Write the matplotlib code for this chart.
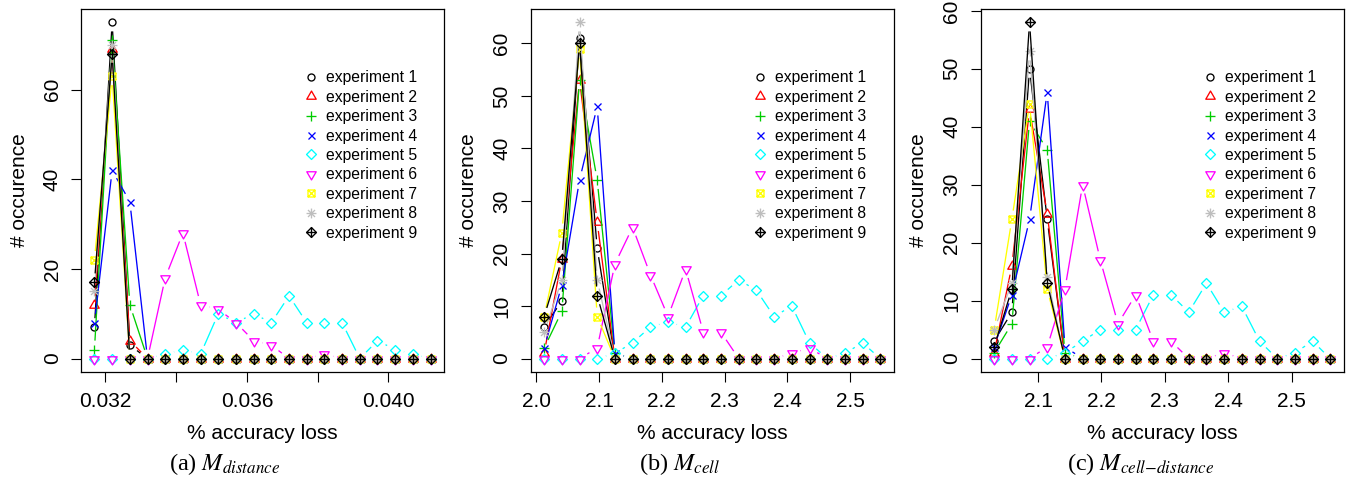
import numpy as np
import matplotlib
matplotlib.use('Agg')
import matplotlib.pyplot as plt
from matplotlib.path import Path
from matplotlib.lines import Line2D
from matplotlib.collections import LineCollection

plt.rcParams['font.family'] = ['Liberation Sans', 'DejaVu Sans']
plt.rcParams['mathtext.fontset'] = 'stix'

# ---------------- data ----------------
exp_labels = ['experiment 1', 'experiment 2', 'experiment 3', 'experiment 4', 'experiment 5',
              'experiment 6', 'experiment 7', 'experiment 8', 'experiment 9']
exp_colors = ['#000000', '#FF0000', '#00CD00', '#0000FF', '#00FFFF',
              '#FF00FF', '#FFFF00', '#BEBEBE', '#000000']

# (a) M_distance
x_distance = [0.03169, 0.03219, 0.03269, 0.03319, 0.03369, 0.03419, 0.03469, 0.03519, 0.03569, 0.03619,
              0.03669, 0.03719, 0.03769, 0.03819, 0.03869, 0.03919, 0.03969, 0.04019, 0.04069, 0.04119]
distance_counts = [
    [7, 75, 3, 0, 0, 0, 0, 0, 0, 0, 0, 0, 0, 0, 0, 0, 0, 0, 0, 0],
    [12, 69, 4, 0, 0, 0, 0, 0, 0, 0, 0, 0, 0, 0, 0, 0, 0, 0, 0, 0],
    [2, 71, 12, 0, 0, 0, 0, 0, 0, 0, 0, 0, 0, 0, 0, 0, 0, 0, 0, 0],
    [8, 42, 35, 0, 0, 0, 0, 0, 0, 0, 0, 0, 0, 0, 0, 0, 0, 0, 0, 0],
    [0, 0, 0, 0, 1, 2, 1, 10, 8, 10, 8, 14, 8, 8, 8, 0, 4, 2, 1, 0],
    [0, 0, 0, 0, 18, 28, 12, 11, 8, 4, 3, 0, 0, 1, 0, 0, 0, 0, 0, 0],
    [22, 63, 0, 0, 0, 0, 0, 0, 0, 0, 0, 0, 0, 0, 0, 0, 0, 0, 0, 0],
    [15, 70, 0, 0, 0, 0, 0, 0, 0, 0, 0, 0, 0, 0, 0, 0, 0, 0, 0, 0],
    [17, 68, 0, 0, 0, 0, 0, 0, 0, 0, 0, 0, 0, 0, 0, 0, 0, 0, 0, 0],
]
distance_xticks = [0.032, 0.034, 0.036, 0.038, 0.040]
distance_xticklabels = ['0.032', '', '0.036', '', '0.040']
distance_yticks = [0, 20, 40, 60]

# (b) M_cell
x_cell = [2.0127, 2.0409, 2.0691, 2.0972, 2.1254, 2.1536, 2.1818, 2.2100, 2.2381, 2.2663,
          2.2945, 2.3227, 2.3509, 2.3790, 2.4072, 2.4354, 2.4636, 2.4918, 2.5199, 2.5481]
cell_counts = [
    [6, 11, 61, 21, 0, 0, 0, 0, 0, 0, 0, 0, 0, 0, 0, 0, 0, 0, 0, 0],
    [1, 19, 53, 26, 0, 0, 0, 0, 0, 0, 0, 0, 0, 0, 0, 0, 0, 0, 0, 0],
    [2, 9, 53, 34, 1, 0, 0, 0, 0, 0, 0, 0, 0, 0, 0, 0, 0, 0, 0, 0],
    [2, 14, 34, 48, 1, 0, 0, 0, 0, 0, 0, 0, 0, 0, 0, 0, 0, 0, 0, 0],
    [0, 0, 0, 0, 1, 3, 6, 7, 6, 12, 12, 15, 13, 8, 10, 3, 0, 1, 3, 0],
    [0, 0, 0, 2, 18, 25, 16, 8, 17, 5, 5, 0, 0, 0, 1, 2, 0, 0, 0, 0],
    [8, 24, 59, 8, 0, 0, 0, 0, 0, 0, 0, 0, 0, 0, 0, 0, 0, 0, 0, 0],
    [5, 15, 64, 15, 0, 0, 0, 0, 0, 0, 0, 0, 0, 0, 0, 0, 0, 0, 0, 0],
    [8, 19, 60, 12, 0, 0, 0, 0, 0, 0, 0, 0, 0, 0, 0, 0, 0, 0, 0, 0],
]
cell_xticks = [2.0, 2.1, 2.2, 2.3, 2.4, 2.5]
cell_xticklabels = ['2.0', '2.1', '2.2', '2.3', '2.4', '2.5']
cell_yticks = [0, 10, 20, 30, 40, 50, 60]

# (c) M_cell-distance
x_celldist = [2.0309, 2.0588, 2.0867, 2.1146, 2.1425, 2.1704, 2.1983, 2.2261, 2.2540, 2.2819,
              2.3098, 2.3377, 2.3656, 2.3935, 2.4214, 2.4493, 2.4772, 2.5051, 2.5330, 2.5608]
celldist_counts = [
    [3, 8, 50, 24, 0, 0, 0, 0, 0, 0, 0, 0, 0, 0, 0, 0, 0, 0, 0, 0],
    [1, 16, 43, 25, 0, 0, 0, 0, 0, 0, 0, 0, 0, 0, 0, 0, 0, 0, 0, 0],
    [1, 6, 41, 36, 1, 0, 0, 0, 0, 0, 0, 0, 0, 0, 0, 0, 0, 0, 0, 0],
    [2, 11, 24, 46, 2, 0, 0, 0, 0, 0, 0, 0, 0, 0, 0, 0, 0, 0, 0, 0],
    [0, 0, 0, 0, 1, 3, 5, 5, 5, 11, 11, 8, 13, 8, 9, 3, 0, 1, 3, 0],
    [0, 0, 0, 2, 12, 30, 17, 6, 11, 3, 3, 0, 0, 1, 0, 0, 0, 0, 0, 0],
    [5, 24, 44, 12, 0, 0, 0, 0, 0, 0, 0, 0, 0, 0, 0, 0, 0, 0, 0, 0],
    [5, 13, 53, 14, 0, 0, 0, 0, 0, 0, 0, 0, 0, 0, 0, 0, 0, 0, 0, 0],
    [2, 12, 58, 13, 0, 0, 0, 0, 0, 0, 0, 0, 0, 0, 0, 0, 0, 0, 0, 0],
]
celldist_xticks = [2.1, 2.2, 2.3, 2.4, 2.5]
celldist_xticklabels = ['2.1', '2.2', '2.3', '2.4', '2.5']
celldist_yticks = [0, 10, 20, 30, 40, 50, 60]

captions = [r'(a) $M_{distance}$', r'(b) $M_{cell}$', r'(c) $M_{cell{-}distance}$']

# ---------------- R-style symbols ----------------
DPI = 100
R_PX = 3.5          # symbol radius in pixels
GAP_PX = 9.0        # type="b" gap around points
PT = 72.0 / DPI
s2 = np.sqrt(2)
M, L, C = Path.MOVETO, Path.LINETO, Path.CLOSEPOLY

tri_up = Path([(0, 1.5551), (1.3468, -0.7776), (-1.3468, -0.7776), (0, 0)], [M, L, L, C])
tri_dn = Path([(0, -1.5551), (1.3468, 0.7776), (-1.3468, 0.7776), (0, 0)], [M, L, L, C])
diamond = Path([(0, s2), (s2, 0), (0, -s2), (-s2, 0), (0, 0)], [M, L, L, L, C])
sq_x = Path([(-1, -1), (1, -1), (1, 1), (-1, 1), (0, 0), (-1, -1), (1, 1), (-1, 1), (1, -1)],
            [M, L, L, L, C, M, L, M, L])
aster = Path([(-s2, 0), (s2, 0), (0, -s2), (0, s2), (-1, -1), (1, 1), (-1, 1), (1, -1)],
             [M, L, M, L, M, L, M, L])
dia_plus = Path([(0, s2), (s2, 0), (0, -s2), (-s2, 0), (0, 0), (-s2, 0), (s2, 0), (0, -s2), (0, s2)],
                [M, L, L, L, C, M, L, M, L])

markers = [('o', 2.0), (tri_up, 2 * 1.5551), ('+', 2 * s2), ('x', 2.0), (diamond, 2 * s2),
           (tri_dn, 2 * 1.5551), (sq_x, 2.0), (aster, 2 * s2), (dia_plus, 2 * s2)]
LW = 0.95

fig = plt.figure(figsize=(13.51, 4.87), dpi=DPI)
W, H = 1351.0, 487.0
ax_lefts = [81.0, 530.7, 980.7]
ax_top, ax_bot, ax_w = 9.0, 372.0, 363.0
cap_x = [225.0, 680.0, 1141.0]

panels = [
    (x_distance, distance_counts, distance_xticks, distance_xticklabels, distance_yticks),
    (x_cell, cell_counts, cell_xticks, cell_xticklabels, cell_yticks),
    (x_celldist, celldist_counts, celldist_xticks, celldist_xticklabels, celldist_yticks),
]

for k, (xs, counts, xt, xtl, yt) in enumerate(panels):
    ax = fig.add_axes([ax_lefts[k] / W, (H - ax_bot) / H, ax_w / W, (ax_bot - ax_top) / H])
    xmin, xmax = min(xs), max(xs)
    ymax = max(max(c) for c in counts)
    ax.set_xlim(xmin - 0.04 * (xmax - xmin), xmax + 0.04 * (xmax - xmin))
    ax.set_ylim(-0.04 * ymax, ymax * 1.04)

    for i, ys in enumerate(counts):
        col = exp_colors[i]
        mk, span = markers[i]
        # type="b" broken line segments
        pts = ax.transData.transform(np.column_stack([xs, ys]))
        segs = []
        for (x0, y0), (x1, y1) in zip(pts[:-1], pts[1:]):
            d = np.hypot(x1 - x0, y1 - y0)
            if d > 2 * GAP_PX:
                f = GAP_PX / d
                segs.append([(x0 + f * (x1 - x0), y0 + f * (y1 - y0)),
                             (x1 + f * (x0 - x1), y1 + f * (y0 - y1))])
        inv = ax.transData.inverted()
        data_segs = [inv.transform(np.array(s)) for s in segs]
        lc = LineCollection(data_segs, colors=col, linewidths=LW, zorder=2 + 2 * i)
        ax.add_collection(lc)
        ax.plot(xs, ys, linestyle='none', marker=mk, ms=span * R_PX * PT,
                markerfacecolor='none', markeredgecolor=col, markeredgewidth=LW,
                zorder=3 + 2 * i, clip_on=False)

    ax.set_xticks(xt)
    ax.set_xticklabels(xtl)
    ax.set_yticks(yt)
    ax.set_yticklabels([str(v) for v in yt])
    ax.tick_params(axis='both', direction='out', length=7.2, width=0.8, labelsize=15, pad=7)
    ax.tick_params(axis='y', labelrotation=90, pad=6.7)
    for lab in ax.get_yticklabels():
        lab.set_verticalalignment('center')
    for sp in ax.spines.values():
        sp.set_linewidth(0.9)

    ax.set_xlabel('% accuracy loss', fontsize=15)
    ax.set_ylabel('# occurence', fontsize=15)
    ax.xaxis.set_label_coords(0.5, -0.143)
    ax.yaxis.set_label_coords(-0.144, 0.5)

    handles = [Line2D([], [], linestyle='none', marker=markers[i][0],
                      ms=markers[i][1] * R_PX * PT, markerfacecolor='none',
                      markeredgecolor=exp_colors[i], markeredgewidth=LW) for i in range(9)]
    ax.legend(handles, exp_labels, loc='upper left', bbox_to_anchor=(0.611, 0.831),
              frameon=False, borderpad=0, borderaxespad=0, handlelength=1.0,
              handletextpad=0.45, labelspacing=0.28, fontsize=11.3, numpoints=1)

    fig.text(cap_x[k] / W, (H - 470.0) / H, captions[k], ha='center', va='baseline',
             fontsize=17.5, family='Liberation Serif')

fig.savefig('out.png', dpi=DPI)
